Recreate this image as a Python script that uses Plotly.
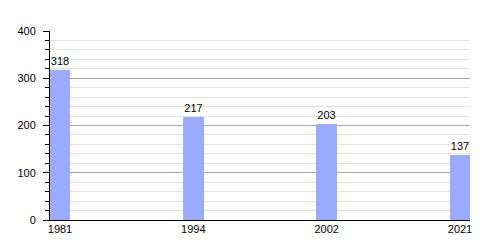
import plotly.graph_objects as go

years = ["1981", "1994", "2002", "2021"]
population = [318, 217, 203, 137]
y_ticks = [0, 100, 200, 300, 400]

positions = list(range(len(years)))

fig = go.Figure(go.Bar(
    x=positions,
    y=population,
    width=0.154,
    marker=dict(color="#99aaff", line=dict(width=0)),
    text=[str(v) for v in population],
    textposition="outside",
    textfont=dict(family="Liberation Sans, Arial, sans-serif", size=11, color="#000"),
    cliponaxis=False,
))

fig.update_layout(
    width=500, height=250,
    margin=dict(l=50, r=30, t=31, b=30),
    paper_bgcolor="white", plot_bgcolor="white",
    showlegend=False,
    font=dict(family="Liberation Sans, Arial, sans-serif", size=11, color="#000"),
    xaxis=dict(
        range=[-0.075, len(years) - 1 + 0.075],
        tickmode="array", tickvals=positions, ticktext=years,
        showgrid=False, zeroline=False,
        showline=True, linecolor="#000", linewidth=1,
        ticks="", ticklabelstandoff=-1,
        fixedrange=True,
    ),
    yaxis=dict(
        range=[0, 400],
        tickmode="array", tickvals=y_ticks,
        showgrid=True, gridcolor="#a8a8a8", gridwidth=1,
        zeroline=False,
        showline=True, linecolor="#000", linewidth=1,
        ticks="outside", ticklen=6, tickcolor="#000", tickwidth=1,
        ticklabelstandoff=5,
        minor=dict(dtick=20, showgrid=True, gridcolor="#e2e2e2", gridwidth=1,
                   ticks="outside", ticklen=4, tickcolor="#000", tickwidth=1),
        fixedrange=True,
    ),
    bargap=0,
)

fig.write_html("out.html")
